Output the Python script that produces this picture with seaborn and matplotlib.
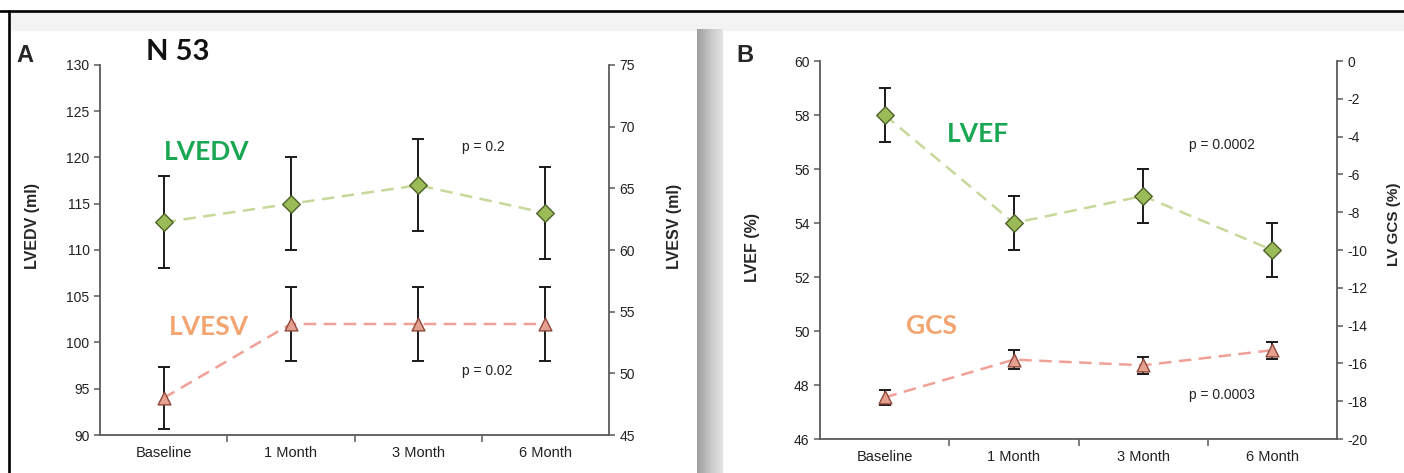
import numpy as np
import pandas as pd
import matplotlib
matplotlib.use("Agg")
import matplotlib.pyplot as plt
import seaborn as sns
from matplotlib.patches import Rectangle
from matplotlib.colors import LinearSegmentedColormap
from matplotlib.ticker import FixedLocator, MultipleLocator

# ---------------- data ----------------
timepoints = ["Baseline", "1 Month", "3 Month", "6 Month"]
lvedv = [113, 115, 117, 114]
lvedv_err = [5, 5, 5, 5]
lvesv = [48, 54, 54, 54]
lvesv_err = [2.5, 3, 3, 3]
lvef = [58, 54, 55, 53]
lvef_err = [1, 1, 1, 1]
gcs = [-17.8, -15.8, -16.1, -15.3]
gcs_err = [0.4, 0.5, 0.45, 0.45]

# ---------------- style ----------------
sns.set_style("ticks")
plt.rcParams["font.family"] = ["Liberation Sans", "DejaVu Sans"]
plt.rcParams["axes.unicode_minus"] = False

W, H = 1404, 473
fig = plt.figure(figsize=(W / 100, H / 100), dpi=100)


def px(x, y):
    return x / W, 1 - y / H


# background decoration (screenshot frame)
bg = fig.add_axes([0, 0, 1, 1])
bg.set_zorder(-10)
bg.add_patch(Rectangle((0, 0), W, H, color="white", zorder=0))
bg.add_patch(Rectangle((10, 12), W - 10, 18, color="#f3f3f3", zorder=1))
cmap = LinearSegmentedColormap.from_list("shadow", ["#9e9e9e", "#c6c6c6", "#e4e4e4"])
bg.imshow(np.linspace(0, 1, 64)[None, :], extent=[697, 723, H, 30], cmap=cmap,
          aspect="auto", zorder=2)
bg.plot([0, W], [11, 11], color="black", lw=1.9, zorder=3)
bg.plot([9, 9], [11, H], color="black", lw=1.9, zorder=3)
bg.set_xlim(0, W)
bg.set_ylim(H, 0)
bg.axis("off")

GREEN_LINE = "#c6d99a"
GREEN_FACE = "#9bbb59"
GREEN_EDGE = "#4f6228"
RED_LINE = "#f0a096"
RED_FACE = "#e6a090"
RED_EDGE = "#8e4a3c"
SPINE = "#5a5a5a"
TXT_GREEN = "#1aa753"
TXT_ORANGE = "#f2a570"

x = np.arange(len(timepoints))


def draw_series(ax, vals, errs, line_c, face, edge, marker, ms):
    df = pd.DataFrame({"t": x, "v": vals})
    ax.errorbar(x, vals, yerr=errs, fmt="none", ecolor="#1a1a1a", elinewidth=1.4,
                capsize=4.5, capthick=1.4, zorder=3)
    sns.lineplot(data=df, x="t", y="v", ax=ax, color=line_c, lw=1.8,
                 linestyle=(0, (5, 3)), zorder=2)
    sns.scatterplot(data=df, x="t", y="v", ax=ax, marker=marker, s=ms,
                    color=face, edgecolor=edge, linewidth=1.0, zorder=4)


def style_left(ax, lo, hi, step):
    ax.set_xlim(-0.5, len(timepoints) - 0.5)
    ax.set_ylim(lo, hi)
    ax.yaxis.set_major_locator(MultipleLocator(step))
    ax.set_xticks(x)
    ax.set_xticklabels(timepoints)
    ax.xaxis.set_minor_locator(FixedLocator([0.5, 1.5, 2.5]))
    ax.tick_params(axis="x", which="major", length=0, pad=8, labelsize=10.5,
                   labelcolor="#222222")
    ax.tick_params(axis="x", which="minor", length=5, width=1.1, color=SPINE,
                   direction="out")
    ax.tick_params(axis="y", length=4, width=1.1, color=SPINE, labelsize=10,
                   labelcolor="#222222", direction="out")
    for s in ["top", "right"]:
        ax.spines[s].set_visible(False)
    for s in ["left", "bottom"]:
        ax.spines[s].set_color(SPINE)
        ax.spines[s].set_linewidth(1.3)
    ax.set_xlabel("")
    ax.set_ylabel("")
    ax.patch.set_alpha(0)


def style_right(ax, lo, hi, step):
    ax.set_ylim(lo, hi)
    ax.yaxis.set_major_locator(MultipleLocator(step))
    ax.tick_params(axis="y", length=4, width=1.1, color=SPINE, labelsize=10,
                   labelcolor="#222222", direction="out")
    for s in ["top", "left", "bottom"]:
        ax.spines[s].set_visible(False)
    ax.spines["right"].set_color(SPINE)
    ax.spines["right"].set_linewidth(1.3)
    ax.set_xlabel("")
    ax.set_ylabel("")
    ax.patch.set_alpha(0)


# ---------------- panel A ----------------
axA = fig.add_axes([100 / W, 38 / H, 509 / W, 370 / H])
axA2 = axA.twinx()
draw_series(axA, lvedv, lvedv_err, GREEN_LINE, GREEN_FACE, GREEN_EDGE, "D", 80)
draw_series(axA2, lvesv, lvesv_err, RED_LINE, RED_FACE, RED_EDGE, "^", 85)
style_left(axA, 90, 130, 5)
style_right(axA2, 45, 75, 5)
axA2.set_xlim(-0.5, len(timepoints) - 0.5)

axA.text(2.51, 121.1, "p = 0.2", ha="center", va="center", fontsize=10, color="#222222")
axA.text(2.54, 96.9, "p = 0.02", ha="center", va="center", fontsize=10, color="#222222")
axA.text(0.34, 120.6, "LVEDV", ha="center", va="center", fontsize=19,
         fontweight="bold", family=["Lato", "DejaVu Sans"], color=TXT_GREEN)
axA.text(0.36, 101.7, "LVESV", ha="center", va="center", fontsize=19,
         fontweight="bold", family=["Lato", "DejaVu Sans"], color=TXT_ORANGE)

# ---------------- panel B ----------------
axB = fig.add_axes([820 / W, 34 / H, 517 / W, 378 / H])
axB2 = axB.twinx()
draw_series(axB, lvef, lvef_err, GREEN_LINE, GREEN_FACE, GREEN_EDGE, "D", 80)
draw_series(axB2, gcs, gcs_err, RED_LINE, RED_FACE, RED_EDGE, "^", 85)
style_left(axB, 46, 60, 2)
style_right(axB2, -20, 0, 2)
axB2.set_xlim(-0.5, len(timepoints) - 0.5)

axB.text(2.61, 56.9, "p = 0.0002", ha="center", va="center", fontsize=10, color="#222222")
axB.text(2.61, 47.63, "p = 0.0003", ha="center", va="center", fontsize=10, color="#222222")
axB.text(0.72, 57.3, "LVEF", ha="center", va="center", fontsize=19,
         fontweight="bold", family=["Lato", "DejaVu Sans"], color=TXT_GREEN)
axB.text(0.36, 50.19, "GCS", ha="center", va="center", fontsize=19,
         fontweight="bold", family=["Lato", "DejaVu Sans"], color=TXT_ORANGE)

# ---------------- figure-level labels ----------------
fig.text(*px(25, 55), "A", ha="center", va="center", fontsize=17, fontweight="bold")
fig.text(*px(745, 55), "B", ha="center", va="center", fontsize=17, fontweight="bold")
fig.text(*px(178, 52), "N 53", ha="center", va="center", fontsize=21, fontweight="bold",
         family=["Lato", "DejaVu Sans"], color="#111111")

fig.text(*px(33, 226), "LVEDV (ml)", rotation=90, ha="center", va="center",
         fontsize=11.5, fontweight="bold")
fig.text(*px(674, 226), "LVESV (ml)", rotation=90, ha="center", va="center",
         fontsize=11.5, fontweight="bold")
fig.text(*px(753, 247), "LVEF (%)", rotation=90, ha="center", va="center",
         fontsize=11.5, fontweight="bold")
fig.text(*px(1394, 266), "LV GCS (%)", rotation=90, ha="center", va="bottom",
         fontsize=11, fontweight="bold")

fig.savefig("out.png", dpi=100)
